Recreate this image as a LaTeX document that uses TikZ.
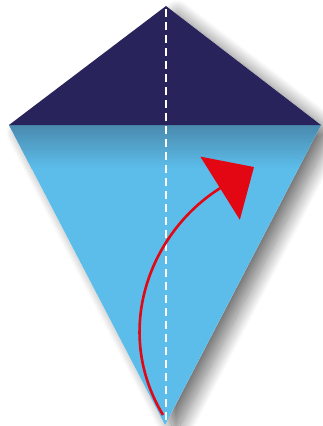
\documentclass[tikz,border=0pt]{standalone}
\usetikzlibrary{arrows.meta, shadows.blur}

\definecolor{kitenavy}{HTML}{29235C}
\definecolor{kiteblue}{HTML}{5CBDEA}
\definecolor{kiteshade}{HTML}{4A8AAE}
\definecolor{foldred}{HTML}{E30613}

\begin{document}
\begin{tikzpicture}[
    x=1pt, y=-1pt,
    crease/.style={draw=white, line width=2.4pt, dash pattern=on 8pt off 5pt},
    fold/.style={-{Triangle[length=40pt,width=74pt]}, draw=foldred, line width=2.6pt}
]
\useasboundingbox (0,0) rectangle (323,426);

\coordinate (apex) at (166,6);
\coordinate (left) at (9,125);
\coordinate (right) at (321,125);
\coordinate (tail) at (165,425);

% kite with its shadow
\fill[white, blur shadow={shadow xshift=11pt, shadow yshift=-8pt, shadow blur radius=14pt, shadow blur steps=20, shadow opacity=55}]
    (apex) -- (right) -- (tail) -- (left) -- cycle;
\fill[kiteblue] (left) -- (right) -- (tail) -- cycle;
\begin{scope}
    \clip (left) -- (right) -- (tail) -- cycle;
    \shade[top color=kiteshade, bottom color=kiteblue] (0,125) rectangle (323,168);
\end{scope}
\fill[kitenavy] (apex) -- (right) -- (left) -- cycle;

\draw[crease] (166,9) -- (166,422);

\coordinate (start) at (163,415);
\coordinate (tip) at (254,167);
\draw[fold] (start) .. controls (112,330) and (150,232) .. (tip);

\end{tikzpicture}
\end{document}
